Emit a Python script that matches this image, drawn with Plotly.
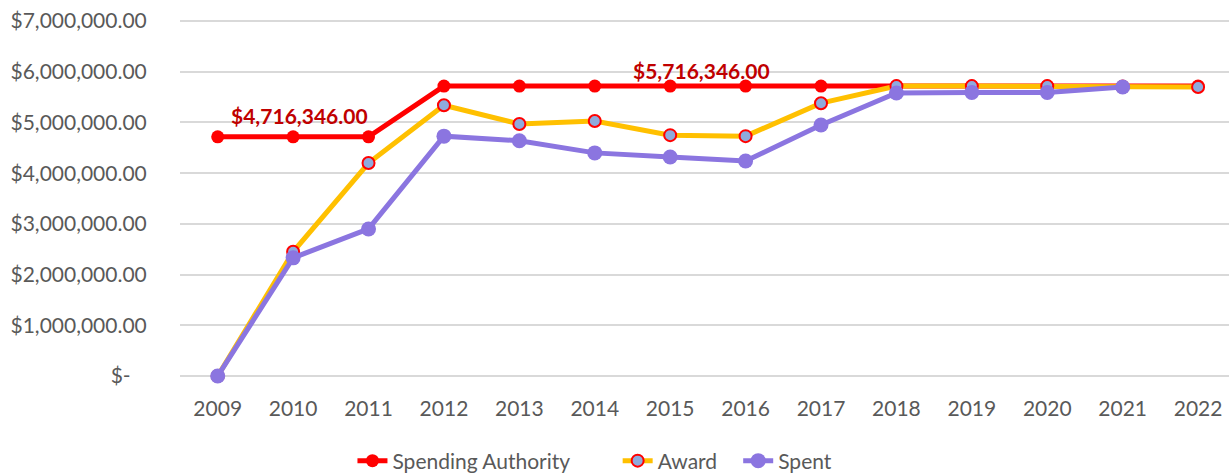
import plotly.graph_objects as go

years = ["2009", "2010", "2011", "2012", "2013", "2014", "2015", "2016",
         "2017", "2018", "2019", "2020", "2021", "2022"]
spending_authority = [4716346, 4716346, 4716346, 5716346, 5716346, 5716346, 5716346,
                      5716346, 5716346, 5716346, 5716346, 5716346, 5716346, 5716346]
award = [0, 2450000, 4200000, 5340000, 4970000, 5030000, 4750000, 4730000,
         5380000, 5716346, 5716346, 5716346, 5700000, 5700000]
spent = [0, 2330000, 2900000, 4730000, 4640000, 4400000, 4320000, 4240000,
         4950000, 5580000, 5590000, 5590000, 5700000, None]

ytick_vals = [0, 1e6, 2e6, 3e6, 4e6, 5e6, 6e6, 7e6]
ytick_text = ["$-\u00a0\u00a0\u00a0", "$1,000,000.00", "$2,000,000.00", "$3,000,000.00",
              "$4,000,000.00", "$5,000,000.00", "$6,000,000.00", "$7,000,000.00"]

label_low = "$4,716,346.00"
label_high = "$5,716,346.00"
FONT = "Lato"
GREY = "#595959"
NB = "\u00a0"

W, H = 1229, 473

fig = go.Figure()
fig.add_trace(go.Scatter(
    x=years, y=spending_authority, name="Spending Authority" + NB * 8, mode="lines+markers",
    line=dict(color="#FF0000", width=5),
    marker=dict(color="#FF0000", size=13, line=dict(width=0)),
    cliponaxis=False))
fig.add_trace(go.Scatter(
    x=years, y=award, name="Award" + NB * 3, mode="lines+markers",
    line=dict(color="#FFC000", width=5),
    marker=dict(color="#8FAADC", size=12, line=dict(color="#FF0000", width=2)),
    cliponaxis=False))
fig.add_trace(go.Scatter(
    x=years, y=spent, name="Spent", mode="lines+markers",
    line=dict(color="#8B75E0", width=5),
    marker=dict(color="#8B75E0", size=15, line=dict(width=0)),
    cliponaxis=False, connectgaps=False))

fig.add_annotation(x=years.index("2010"), y=spending_authority[1],
                   text="<b>" + label_low + "</b>",
                   showarrow=False, xshift=6, yshift=21,
                   font=dict(family=FONT, size=21, color="#C00000"))
fig.add_annotation(x=years.index("2015"), y=spending_authority[6],
                   text="<b>" + label_high + "</b>",
                   showarrow=False, xshift=31, yshift=16,
                   font=dict(family=FONT, size=21, color="#C00000"))

fig.update_layout(
    width=W, height=H,
    margin=dict(l=180, r=0, t=19, b=97, autoexpand=False),
    paper_bgcolor="white", plot_bgcolor="white",
    font=dict(family=FONT, size=21, color=GREY),
    showlegend=True,
    legend=dict(orientation="h", xref="container", x=0.4841, xanchor="center",
                yref="container", y=0.0254, yanchor="middle",
                font=dict(family=FONT, size=21, color=GREY),
                tracegroupgap=0),
    xaxis=dict(type="category", range=[-0.5, 13.41], showgrid=False,
               showline=False, zeroline=False, automargin=False,
               ticks="outside", ticklen=14, tickcolor="rgba(0,0,0,0)",
               tickfont=dict(family=FONT, size=21, color=GREY)),
    yaxis=dict(range=[0, 7.04e6], tickvals=ytick_vals, ticktext=ytick_text,
               showgrid=True, gridcolor="#D9D9D9", gridwidth=1.5,
               zeroline=True, zerolinecolor="#D9D9D9", zerolinewidth=1.5,
               automargin=False,
               ticks="outside", ticklen=28, tickcolor="rgba(0,0,0,0)",
               tickfont=dict(family=FONT, size=21, color=GREY)),
)

fig.write_html("out.html", config={"displayModeBar": False},
               post_script="document.body.style.margin = '0';")
